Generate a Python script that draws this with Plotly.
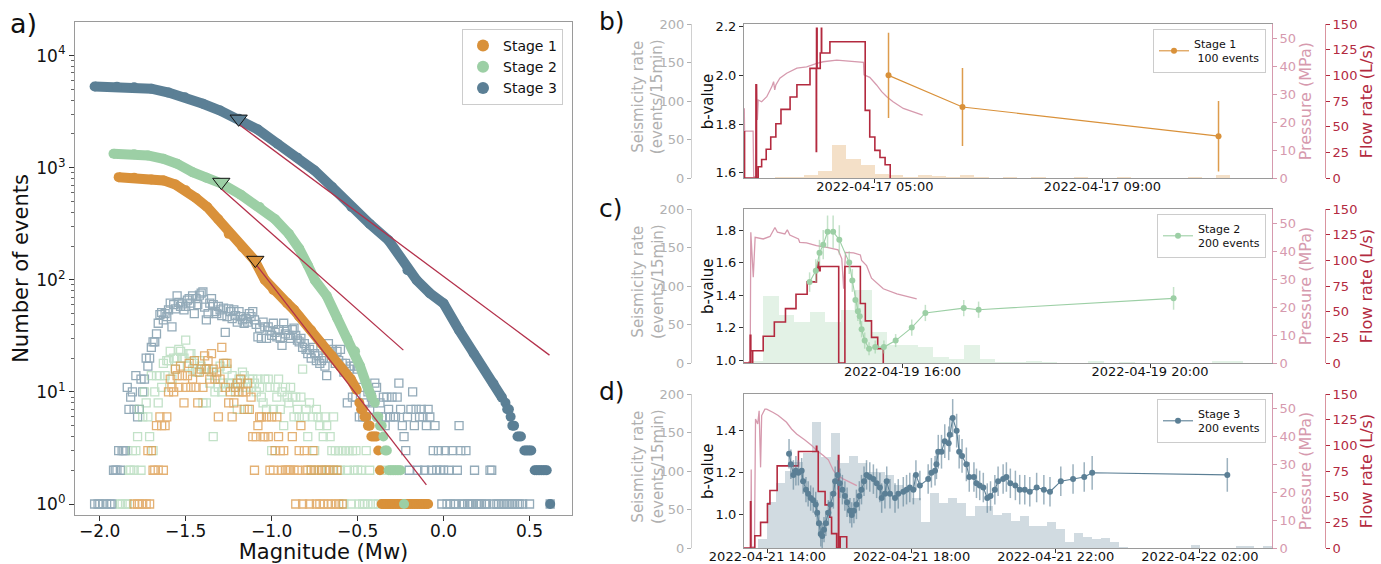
import numpy as np
import pandas as pd
import plotly.graph_objects as go

# ======================= Panel a: frequency-magnitude data =======================
BIN = 0.01
stage_names = ["Stage 1", "Stage 2", "Stage 3"]

# non-cumulative counts per 0.01 magnitude bin (open squares)
sq1_first = -1.80
sq1_counts = [1, 0, 1, 1, 0, 1, 0, 1, 3, 1,
              3, 2, 2, 5, 2, 6, 5, 2, 5, 6,
              10, 13, 11, 10, 16, 14, 11, 17, 14, 8,
              11, 14, 18, 11, 13, 19, 11, 8, 15, 16,
              11, 21, 16, 19, 13, 22, 16, 13, 15, 6,
              13, 25, 18, 11, 18, 8, 10, 6, 8, 11,
              12, 10, 13, 10, 7, 10, 12, 7, 9, 4,
              2, 4, 5, 6, 6, 4, 4, 6, 4, 2,
              6, 2, 3, 6, 4, 3, 2, 3, 2, 2,
              2, 2, 4, 2, 1, 2, 3, 5, 1, 3,
              2, 2, 1, 2, 3, 2, 1, 2, 1, 2,
              1, 2, 2, 1, 2, 1, 2, 1, 2, 1,
              0, 1]
sq2_first = -1.88
sq2_counts = [1, 1, 0, 1, 1, 2, 2, 3, 2, 3,
              4, 7, 2, 6, 10, 8, 6, 4, 14, 3,
              10, 14, 8, 14, 11, 18, 14, 19, 19, 23,
              13, 20, 16, 20, 24, 23, 20, 20, 29, 17,
              22, 22, 16, 18, 15, 15, 19, 17, 8, 16,
              8, 16, 12, 15, 4, 10, 14, 11, 17, 10,
              12, 18, 16, 12, 12, 14, 11, 10, 7, 13,
              12, 15, 14, 11, 7, 13, 11, 13, 12, 10,
              13, 11, 9, 8, 13, 7, 13, 11, 3, 7,
              11, 9, 13, 7, 10, 5, 11, 9, 8, 11,
              9, 6, 9, 7, 6, 9, 16, 6, 7, 4,
              8, 2, 6, 3, 7, 6, 5, 2, 4, 6,
              5, 2, 4, 3, 6, 3, 2, 3, 2, 3,
              1, 3, 2, 3, 1, 3, 2, 3, 2, 1,
              2, 1, 1, 3, 1, 2, 0, 1, 0, 0,
              1, 0, 2, 0, 1, 0, 0, 0, 1, 0,
              0, 0, 0, 0, 0, 1]
sq3_first = -2.03
sq3_counts = [1, 0, 1, 1, 0, 1, 0, 1, 0, 1,
              1, 2, 2, 2, 3, 2, 3, 3, 3, 11,
              7, 9, 10, 7, 14, 6, 7, 13, 10, 13,
              20, 17, 20, 25, 28, 28, 33, 41, 49, 51,
              44, 50, 47, 54, 62, 38, 60, 55, 72, 63,
              58, 61, 54, 58, 66, 68, 62, 72, 50, 68,
              60, 73, 76, 78, 57, 44, 50, 62, 68, 60,
              52, 50, 58, 54, 48, 56, 34, 47, 55, 52,
              45, 54, 48, 42, 52, 47, 44, 41, 45, 42,
              50, 47, 52, 44, 40, 31, 37, 30, 42, 38,
              30, 38, 35, 32, 41, 34, 31, 36, 30, 26,
              41, 33, 36, 32, 30, 36, 37, 32, 29, 28,
              30, 25, 27, 24, 22, 24, 20, 25, 22, 19,
              21, 18, 19, 20, 17, 14, 27, 23, 24, 20,
              18, 23, 19, 24, 18, 15, 18, 8, 16, 17,
              9, 17, 9, 16, 6, 11, 6, 8, 6, 10,
              7, 9, 8, 12, 11, 6, 8, 6, 9, 5,
              9, 7, 6, 9, 6, 6, 9, 12, 7, 5,
              4, 3, 6, 2, 7, 10, 5, 7, 2, 6,
              7, 6, 2, 5, 7, 6, 2, 3, 5, 2,
              3, 2, 1, 2, 3, 1, 2, 1, 3, 1,
              1, 2, 5, 3, 1, 1, 3, 1, 1, 1,
              1, 2, 1, 1, 1, 1, 0, 1, 1, 0,
              2, 2, 1, 0, 1, 1, 0, 1, 1, 0,
              1, 1, 0, 1, 1, 0, 1, 1, 0, 1,
              0, 0, 0, 1, 0, 0, 0, 0, 0, 0,
              0, 0, 0, 0, 0, 1]

# cumulative number of events (filled dots), smooth part
cum1_mag = [-1.89, -1.80, -1.70, -1.63, -1.56, -1.50, -1.44, -1.375, -1.31, -1.25, -1.17, -1.10,
            -1.04, -0.99, -0.91, -0.87, -0.84, -0.77, -0.71, -0.65, -0.60, -0.54, -0.505]
cum1_n = [824, 813, 785, 771, 708, 628, 537, 446, 347, 257, 195, 150,
          100, 81, 62, 54, 47, 35.5, 27, 21, 16.8, 13, 10.4]
cum2_mag = [-1.92, -1.80, -1.72, -1.63, -1.55, -1.46, -1.38, -1.29, -1.18, -1.07, -0.98, -0.90,
            -0.84, -0.79, -0.748, -0.68, -0.62, -0.56, -0.515, -0.486, -0.447, -0.418]
cum2_n = [1334, 1318, 1288, 1202, 1086, 912, 813, 720, 575, 446, 347, 257,
          190, 135, 99, 72, 46, 30, 23, 17, 11.5, 9]
cum3_mag = [-2.03, -1.90, -1.80, -1.70, -1.60, -1.505, -1.40, -1.30, -1.19, -1.08, -0.966, -0.85,
            -0.751, -0.65, -0.536, -0.43, -0.32, -0.21, -0.156, -0.08, 0.0, 0.09, 0.175, 0.29, 0.34]
cum3_n = [5300, 5285, 5224, 5070, 4677, 4256, 3715, 3236, 2730, 2188, 1637, 1230,
          946, 676, 446, 316, 225, 122, 99, 76, 61.5, 35.6, 22, 11.9, 8.9]
# cumulative, discrete tail
tail1_mag = [-0.49, -0.48, -0.47, -0.46, -0.45, -0.44, -0.43, -0.42, -0.41, -0.40, -0.39, -0.38, -0.37,
             -0.36, -0.35, -0.34, -0.33, -0.32, -0.31, -0.30, -0.29, -0.28, -0.27, -0.26, -0.25, -0.24,
             -0.23, -0.22, -0.21, -0.20, -0.19, -0.18, -0.17, -0.16, -0.15, -0.14, -0.13, -0.12, -0.11,
             -0.10, -0.09]
tail1_n = [8, 7, 7, 6, 6, 5, 5, 4, 4, 4, 4, 3, 2,
           1, 1, 1, 1, 1, 1, 1, 1, 1, 1, 1, 1, 1,
           1, 1, 1, 1, 1, 1, 1, 1, 1, 1, 1, 1, 1,
           1, 1]
tail2_mag = [-0.40, -0.39, -0.38, -0.37, -0.36, -0.35, -0.34, -0.33, -0.32, -0.31, -0.30, -0.29,
             -0.28, -0.27, -0.26, -0.25, -0.23]
tail2_n = [8, 6, 6, 5, 5, 4, 3, 3, 2, 2, 2, 2, 2, 2, 2, 2, 1]
tail3_mag = [0.36, 0.37, 0.38, 0.39, 0.40, 0.41, 0.43, 0.44, 0.45, 0.47, 0.48, 0.49, 0.50, 0.51,
             0.53, 0.54, 0.55, 0.56, 0.57, 0.58, 0.59, 0.60, 0.62]
tail3_n = [8, 7, 7, 6, 5, 5, 4, 4, 4, 3, 3, 3, 3, 3, 2, 2, 2, 2, 2, 2, 2, 2, 1]

# Gutenberg-Richter fits (end points) and completeness magnitudes
fit1_mag, fit1_n = [-1.096, -0.10], [140, 1.48]
fit2_mag, fit2_n = [-1.294, -0.234], [650, 23.6]
fit3_mag, fit3_n = [-1.19, 0.616], [2430, 21.3]
mc_mag = [-1.095, -1.293, -1.192]
mc_n = [150, 745, 2730]

# ======================= Panels b-d: time series =======================
# times are hours after midnight of the panel's first day
b_hist_start = [3.25, 3.5, 3.75, 4.0, 4.25, 4.5, 4.75, 5.0, 5.25, 5.5, 5.75, 6.0, 6.25, 6.5, 6.75,
                7.25, 7.75, 8.5, 9.25, 10.5, 11.0]
b_hist_count = [1, 1, 4, 9, 42, 24, 17, 5, 3, 1, 4, 2, 1, 3, 1, 1, 1, 1, 1, 1, 3]
b_press_t = [2.69, 2.70, 2.705, 2.71, 2.86, 2.87, 2.91, 2.92, 2.935, 2.95, 3.01, 3.10, 3.19, 3.22, 3.24,
             3.26, 3.33, 3.45, 3.63, 3.80, 3.98, 4.09, 4.33, 4.56, 4.80, 4.81, 4.91, 5.03, 5.12, 5.21,
             5.32, 5.50, 5.84]
b_press_p = [16.8, 16.8, 25.0, 16.8, 16.8, 0.5, 0.5, 33.3, 20.8, 27.9, 27.3, 29.1, 32.7, 34.5, 31.5,
             33.3, 35.7, 37.5, 39.3, 39.8, 41.0, 41.6, 42.2, 41.9, 41.4, 36.9, 36.0, 33.3, 30.9, 29.1,
             27.3, 24.9, 22.5]
b_flow_t = [2.69, 2.70, 2.71, 2.91, 2.92, 2.95, 3.01, 3.09, 3.17, 3.26, 3.35, 3.51, 3.63, 3.86,
            3.97, 3.975, 3.985, 4.04, 4.06, 4.065, 4.21, 4.83, 4.91, 5.00, 5.09, 5.18, 5.27]
b_flow_q = [0, 45, 0, 91, 0, 11, 18, 28, 40, 53, 67, 79, 91, 107,
            26, 146, 107, 122, 146, 122, 133, 66, 40, 27, 20, 13, 0]
b_bval_t = [5.24, 6.54, 11.04]
b_bval_v = [2.00, 1.87, 1.75]
b_bval_e = [0.175, 0.16, 0.145]

c_hist_start = [13.5, 13.75, 14.0, 14.25, 14.5, 14.75, 15.0, 15.25, 15.5, 15.75, 16.0, 16.25, 16.5,
                16.75, 17.0, 17.25, 17.5, 17.75, 18.0, 18.25, 19.0, 19.5, 21.0, 21.25]
c_hist_count = [2, 87, 62, 53, 66, 53, 69, 95, 40, 24, 23, 21, 8, 5, 24, 5, 1, 1, 3, 1, 2, 1, 3, 3]
c_press_t = [13.51, 13.54, 13.55, 13.59, 13.62, 13.75, 13.86, 13.94, 13.98, 14.10, 14.14, 14.18, 14.32,
             14.34, 14.45, 14.61, 14.78, 14.94, 14.96, 15.02, 15.05, 15.08, 15.21, 15.32, 15.34, 15.42,
             15.50, 15.69, 15.91, 16.23]
c_press_p = [0.4, 0.4, 46.7, 30.6, 44.9, 44.3, 45.2, 48.4, 46.7, 46.1, 47.6, 45.7, 44.3,
             43.1, 42.9, 41.9, 41.3, 40.7, 40.4, 37.2, 26.5, 39.5, 39.3, 38.6, 36.6, 34.8,
             30.3, 26.5, 24.7, 22.9]
c_flow_t = [13.44, 13.54, 13.55, 13.57, 13.58, 13.75, 13.93, 14.11, 14.28, 14.46, 14.61, 14.63, 14.65,
            14.67, 14.97, 15.07, 15.32, 15.40, 15.50, 15.60, 15.69]
c_flow_q = [0, 27, 12, 0, 12, 26, 40, 53, 67, 79, 92, 98, 90, 94, 0, 94, 58, 41, 25, 14, 0]
c_bval_t = [14.50, 14.60, 14.66, 14.72, 14.79, 14.88, 14.98, 15.14, 15.19, 15.24, 15.28, 15.31,
            15.34, 15.39, 15.46, 15.56, 15.70, 15.89, 16.15, 16.37, 16.99, 17.23, 20.38]
c_bval_v = [1.48, 1.55, 1.66, 1.71, 1.79, 1.79, 1.74, 1.60, 1.49, 1.37, 1.30, 1.27,
            1.19, 1.12, 1.07, 1.08, 1.08, 1.12, 1.20, 1.29, 1.32, 1.31, 1.38]
c_bval_e = [0.06, 0.07, 0.08, 0.09, 0.10, 0.10, 0.09, 0.07, 0.07, 0.06, 0.06, 0.05,
            0.05, 0.05, 0.04, 0.04, 0.04, 0.04, 0.05, 0.05, 0.05, 0.05, 0.07]

d_hist_first = 13.75
d_hist_count = [12, 60, 84, 100, 112, 123, 164, 118, 149, 110,
                120, 110, 99, 99, 95, 82, 78, 65, 34, 71,
                58, 65, 58, 41, 55, 55, 43, 46, 35, 42,
                29, 28, 34, 25, 8, 19, 14, 12, 13, 8,
                1, 0, 0, 0, 0, 0, 0, 0, 4, 0,
                0, 0, 0, 3, 2, 0, 3]
d_press_t = [13.54, 13.55, 13.56, 13.64, 13.67, 13.73, 13.77, 13.81, 13.84, 13.93, 13.98, 14.16, 14.30,
             14.53, 14.67, 14.81, 14.95, 15.04, 15.23, 15.37, 15.55, 15.69, 15.83, 15.92, 16.10, 16.29,
             16.48]
d_press_p = [0.4, 28.0, 0.4, 0.4, 46.1, 44.3, 49.0, 28.8, 47.3, 49.6, 49.6, 48.4, 47.3,
             44.9, 42.5, 40.7, 39.5, 38.6, 36.6, 34.8, 33.0, 31.5, 27.7, 26.2, 24.7, 23.5,
             22.3]
d_flow_t = [13.35, 13.53, 13.54, 13.65, 13.81, 14.00, 14.07, 14.27, 14.86, 15.36, 15.37, 15.41,
            15.60, 15.73, 15.78, 15.92, 15.97, 15.98, 16.02, 16.20]
d_flow_q = [0, 45, 0, 12, 25, 43, 56, 80, 94, 99, 94, 55, 42, 30, 14, 0, 90, 0, 11, 0]
d_bval_t = [14.60, 14.65, 14.72, 14.79, 14.86, 14.95, 14.99, 15.07, 15.13, 15.20,
            15.27, 15.34, 15.38, 15.43, 15.48, 15.52, 15.57, 15.62, 15.69, 15.75,
            15.83, 15.88, 15.95, 16.01, 16.08, 16.15, 16.21, 16.29, 16.34, 16.40,
            16.47, 16.55, 16.61, 16.68, 16.75, 16.84, 16.94, 17.03, 17.12, 17.17,
            17.26, 17.31, 17.40, 17.54, 17.63, 17.77, 17.86, 17.95, 18.05, 18.12,
            18.23, 18.46, 18.55, 18.65, 18.69, 18.74, 18.83, 18.92, 19.03, 19.06,
            19.14, 19.25, 19.32, 19.40, 19.52, 19.60, 19.73, 19.80, 19.89, 19.99,
            20.10, 20.19, 20.31, 20.40, 20.54, 20.63, 20.74, 20.88, 21.00, 21.14,
            21.28, 21.47, 21.67, 21.84, 22.14, 22.48, 22.79, 23.01, 26.76]
d_bval_v = [1.29, 1.24, 1.19, 1.21, 1.20, 1.21, 1.16, 1.12, 1.10, 1.08,
            1.07, 1.05, 1.01, 0.96, 0.91, 0.90, 0.93, 0.96, 1.01, 1.05,
            1.10, 1.16, 1.19, 1.15, 1.12, 1.09, 1.06, 1.02, 1.00, 1.02,
            1.05, 1.09, 1.12, 1.16, 1.19, 1.18, 1.17, 1.15, 1.13, 1.08,
            1.10, 1.16, 1.10, 1.08, 1.10, 1.11, 1.12, 1.13, 1.12, 1.19,
            1.14, 1.17, 1.20, 1.21, 1.24, 1.30, 1.30, 1.35, 1.34, 1.38,
            1.46, 1.40, 1.30, 1.28, 1.24, 1.18, 1.18, 1.15, 1.14, 1.13,
            1.08, 1.09, 1.12, 1.16, 1.17, 1.18, 1.15, 1.14, 1.12, 1.12,
            1.11, 1.13, 1.12, 1.11, 1.16, 1.17, 1.18, 1.20, 1.19]
d_bval_e = [0.07, 0.07, 0.07, 0.07, 0.06, 0.06, 0.06, 0.06, 0.06, 0.06,
            0.06, 0.06, 0.06, 0.06, 0.06, 0.06, 0.06, 0.06, 0.06, 0.06,
            0.07, 0.07, 0.07, 0.07, 0.07, 0.07, 0.07, 0.06, 0.06, 0.06,
            0.07, 0.07, 0.07, 0.07, 0.07, 0.07, 0.07, 0.07, 0.07, 0.07,
            0.07, 0.07, 0.07, 0.07, 0.07, 0.07, 0.07, 0.07, 0.07, 0.07,
            0.07, 0.07, 0.07, 0.07, 0.07, 0.08, 0.08, 0.08, 0.08, 0.08,
            0.09, 0.08, 0.08, 0.08, 0.08, 0.07, 0.07, 0.07, 0.07, 0.07,
            0.07, 0.07, 0.07, 0.07, 0.07, 0.07, 0.07, 0.07, 0.07, 0.07,
            0.07, 0.07, 0.07, 0.07, 0.07, 0.07, 0.07, 0.08, 0.08]

# ======================= styling =======================
FONT = "DejaVu Sans"
C1, C2, C3 = "#d9913a", "#9ccfa5", "#5b7f95"
FIT = "#b3314b"
FLOW = "#b32a3f"
PRESS = "#d69aae"
GREY = "#b0b0b0"
FRAME = "#9a9a9a"
W, H = 1381, 564


def fx(x):
    return x / W


def fy(y):
    return 1 - y / H


def to_time(day, hours):
    base = pd.Timestamp(day)
    return [base + pd.Timedelta(hours=float(h)) for h in hours]


def rgba(hexcol, a):
    h = hexcol.lstrip("#")
    return "rgba(%d,%d,%d,%.2f)" % (int(h[0:2], 16), int(h[2:4], 16), int(h[4:6], 16), a)


fig = go.Figure()

# ---------- panel a ----------
sq_sets = [(sq3_first, sq3_counts, C3, 0.65), (sq2_first, sq2_counts, C2, 0.6), (sq1_first, sq1_counts, C1, 0.7)]
for first, counts, col, op in sq_sets:
    mags = np.round(first + BIN * np.arange(len(counts)), 2)
    cnt = np.array(counts, dtype=float)
    keep = cnt > 0
    fig.add_trace(go.Scatter(x=mags[keep], y=cnt[keep], mode="markers", xaxis="x", yaxis="y",
                             marker=dict(symbol="square-open", size=8, color=col, line=dict(width=1.3, color=col)),
                             opacity=op, showlegend=False, hoverinfo="skip"))

cum_sets = [(cum1_mag, cum1_n, tail1_mag, tail1_n, C1),
            (cum2_mag, cum2_n, tail2_mag, tail2_n, C2),
            (cum3_mag, cum3_n, tail3_mag, tail3_n, C3)]
for cm, cn, tm, tn, col in cum_sets:
    fig.add_trace(go.Scatter(x=cm, y=cn, mode="lines+markers", xaxis="x", yaxis="y",
                             line=dict(color=col, width=10), marker=dict(size=10, color=col),
                             showlegend=False, hoverinfo="skip"))
    fig.add_trace(go.Scatter(x=tm, y=tn, mode="markers", xaxis="x", yaxis="y",
                             marker=dict(size=10, color=col), showlegend=False, hoverinfo="skip"))

for fm, fn in [(fit1_mag, fit1_n), (fit2_mag, fit2_n), (fit3_mag, fit3_n)]:
    fig.add_trace(go.Scatter(x=fm, y=fn, mode="lines", xaxis="x", yaxis="y",
                             line=dict(color=FIT, width=1.3), showlegend=False, hoverinfo="skip"))

fig.add_trace(go.Scatter(x=mc_mag, y=mc_n, mode="markers", xaxis="x", yaxis="y",
                         marker=dict(symbol="triangle-down", size=15, color=[C1, C2, C3],
                                     line=dict(color="#111111", width=1)),
                         showlegend=False, hoverinfo="skip"))

for name, col in zip(stage_names, [C1, C2, C3]):
    fig.add_trace(go.Scatter(x=[None], y=[None], mode="markers", name=name, xaxis="x", yaxis="y",
                             marker=dict(size=10, color=col), legend="legend"))

minor_vals = [m * 10 ** k for k in range(0, 5) for m in range(2, 10) if m * 10 ** k < 19000]

layout = dict(
    width=W, height=H, margin=dict(l=0, r=0, t=0, b=0, autoexpand=False),
    paper_bgcolor="white", plot_bgcolor="white",
    font=dict(family=FONT, color="#111111"),
    xaxis=dict(domain=[fx(75), fx(572)], range=[-2.144, 0.747], anchor="y", automargin=False,
               tickvals=[-2.0, -1.5, -1.0, -0.5, 0.0, 0.5],
               ticktext=["\u22122.0", "\u22121.5", "\u22121.0", "\u22120.5", "0.0", "0.5"],
               ticks="outside", ticklen=5, tickcolor="#333", tickfont=dict(size=17),
               ticklabelstandoff=-5,
               showline=True, linecolor=FRAME, linewidth=1.2, mirror=True, showgrid=False, zeroline=False,
               title=dict(text="Magnitude (Mw)", font=dict(size=21), standoff=2)),
    yaxis=dict(domain=[fy(515), fy(22)], type="log", range=[-0.098, 4.30], anchor="x", automargin=False,
               tickvals=[1, 10, 100, 1000, 10000],
               ticktext=["10<sup>0</sup>", "10<sup>1</sup>", "10<sup>2</sup>", "10<sup>3</sup>", "10<sup>4</sup>"],
               ticks="outside", ticklen=5, tickcolor="#333", tickfont=dict(size=17),
               minor=dict(tickmode="array", tickvals=minor_vals, ticks="outside", ticklen=3, tickcolor="#666"),
               showline=True, linecolor=FRAME, linewidth=1.2, mirror=True, showgrid=False, zeroline=False,
               title=dict(text="Number of events", font=dict(size=21), standoff=1)),
    legend=dict(x=fx(563), y=fy(29), xanchor="right", yanchor="top", bgcolor="rgba(255,255,255,0.9)",
                bordercolor="#cccccc", borderwidth=1, font=dict(size=14), itemsizing="constant"),
)

annotations = [dict(text="a)", x=fx(8), y=fy(24), xref="paper", yref="paper", xanchor="left",
                    yanchor="middle", showarrow=False, font=dict(size=27))]

# ---------- panels b-d ----------
panels = [
    dict(day="2022-04-17", xr=(2.70, 11.98), ticks=[5, 9], top=24.3, bot=178, brange=(1.578, 2.21),
         btick=[1.6, 1.8, 2.0, 2.2], col=C1, hs=b_hist_start, hc=b_hist_count,
         pt=b_press_t, pp=b_press_p, ft=b_flow_t, fq=b_flow_q, bt=b_bval_t, bv=b_bval_v, be=b_bval_e,
         name="Stage 1<br> 100 events", label="b)", lab_y=21, leg_y=29, eop=0.9),
    dict(day="2022-04-19", xr=(13.44, 21.97), ticks=[16, 20], top=209, bot=363, brange=(0.982, 1.93),
         btick=[1.0, 1.2, 1.4, 1.6, 1.8], col=C2, hs=c_hist_start, hc=c_hist_count,
         pt=c_press_t, pp=c_press_p, ft=c_flow_t, fq=c_flow_q, bt=c_bval_t, bv=c_bval_v, be=c_bval_e,
         name="Stage 2<br>200 events", label="c)", lab_y=208, leg_y=214, eop=0.6),
    dict(day="2022-04-21", xr=(13.35, 28.0), ticks=[14, 18, 22, 26], top=394, bot=548, brange=(0.843, 1.574),
         btick=[1.0, 1.2, 1.4], col=C3,
         hs=[d_hist_first + 0.25 * k for k in range(len(d_hist_count))], hc=d_hist_count,
         pt=d_press_t, pp=d_press_p, ft=d_flow_t, fq=d_flow_q, bt=d_bval_t, bv=d_bval_v, be=d_bval_e,
         name="Stage 3<br>200 events", label="d)", lab_y=391, leg_y=399, eop=0.6),
]

for i, p in enumerate(panels):
    xn = i + 2
    ys, yp, yf, yb = 2 + 4 * i, 3 + 4 * i, 4 + 4 * i, 5 + 4 * i
    xid = "x%d" % xn
    col = p["col"]
    day = p["day"]
    # seismicity histogram
    hs = [h for h, c in zip(p["hs"], p["hc"]) if c > 0]
    hc = [c for c in p["hc"] if c > 0]
    fig.add_trace(go.Bar(x=to_time(day, [h + 0.125 for h in hs]), y=hc, width=15 * 60 * 1000,
                         marker=dict(color=rgba(col, 0.28), line=dict(width=0)),
                         xaxis=xid, yaxis="y%d" % ys, showlegend=False, hoverinfo="skip"))
    # pressure
    fig.add_trace(go.Scatter(x=to_time(day, p["pt"]), y=p["pp"], mode="lines",
                             line=dict(color=PRESS, width=1.3), xaxis=xid, yaxis="y%d" % yp,
                             showlegend=False, hoverinfo="skip"))
    # flow rate
    fig.add_trace(go.Scatter(x=to_time(day, p["ft"]), y=p["fq"], mode="lines",
                             line=dict(color=FLOW, width=1.6, shape="hv"), xaxis=xid, yaxis="y%d" % yf,
                             showlegend=False, hoverinfo="skip"))
    # b-value
    fig.add_trace(go.Scatter(x=to_time(day, p["bt"]), y=p["bv"], mode="lines+markers", name=p["name"],
                             marker=dict(size=6, color=col), line=dict(color=col, width=1.1),
                             error_y=dict(type="data", array=p["be"], visible=True, color=rgba(col, p["eop"]),
                                          thickness=1.5, width=0),
                             xaxis=xid, yaxis="y%d" % yb, legend="legend%d" % xn, showlegend=True,
                             hoverinfo="skip"))

    dom = [fy(p["bot"]), fy(p["top"])]
    mid = (p["bot"] + p["top"]) / 2
    tv = to_time(day, p["ticks"])
    layout["xaxis%d" % xn] = dict(
        domain=[fx(744), fx(1272)], type="date", anchor="y%d" % yb, automargin=False,
        range=to_time(day, p["xr"]), tickvals=tv, tickformat="%Y-%m-%d %H:%M",
        ticks="outside", ticklen=4, tickcolor="#333", tickfont=dict(size=13), ticklabelstandoff=-8,
        showline=True, linecolor=FRAME, linewidth=1.2, mirror=True, showgrid=False, zeroline=False)
    layout["yaxis%d" % ys] = dict(
        domain=dom, anchor="free", position=fx(691), side="left", range=[0, 200], automargin=False,
        tickvals=[0, 50, 100, 150, 200], ticks="outside", ticklen=4, tickcolor=GREY,
        tickfont=dict(size=13, color=GREY), showline=True, linecolor="#d0d0d0", showgrid=False,
        zeroline=False)
    layout["yaxis%d" % yp] = dict(
        overlaying="y%d" % ys, anchor=xid, side="right", range=[0, 55], automargin=False,
        tickvals=[0, 10, 20, 30, 40, 50], ticks="outside", ticklen=4, tickcolor=PRESS,
        tickfont=dict(size=13, color=PRESS), showline=True, linecolor=PRESS, showgrid=False, zeroline=False,
        title=dict(text="Pressure (MPa)", font=dict(size=16, color=PRESS), standoff=1))
    layout["yaxis%d" % yf] = dict(
        overlaying="y%d" % ys, anchor="free", position=fx(1325), side="right", range=[0, 150],
        automargin=False,
        tickvals=[0, 25, 50, 75, 100, 125, 150], ticks="outside", ticklen=4, tickcolor=FLOW,
        tickfont=dict(size=13, color=FLOW), showline=True, linecolor=rgba(FLOW, 0.5), showgrid=False,
        zeroline=False,
        title=dict(text="Flow rate (L/s)", font=dict(size=16, color=FLOW), standoff=4))
    layout["yaxis%d" % yb] = dict(
        overlaying="y%d" % ys, anchor=xid, side="left", range=list(p["brange"]), automargin=False,
        tickvals=p["btick"], tickformat=".1f", ticks="outside", ticklen=4, tickcolor="#333",
        tickfont=dict(size=13, color="#111"), showline=True, linecolor=FRAME, linewidth=1.2,
        showgrid=False, zeroline=False)
    layout["legend%d" % xn] = dict(
        x=fx(1266), y=fy(p["leg_y"]), xanchor="right", yanchor="top", bgcolor="rgba(255,255,255,0.9)",
        bordercolor="#cccccc", borderwidth=1, font=dict(size=11), tracegroupgap=0, itemwidth=30)
    annotations.append(dict(text=p["label"], x=fx(597), y=fy(p["lab_y"]), xref="paper", yref="paper",
                            xanchor="left", yanchor="middle", showarrow=False, font=dict(size=25)))
    annotations.append(dict(text="Seismicity rate<br>(events/15min)", x=fx(648), y=fy(mid - 4),
                            xref="paper", yref="paper", xanchor="center", yanchor="middle",
                            textangle=-90, showarrow=False, font=dict(size=15, color=GREY)))
    annotations.append(dict(text="b-value", x=fx(708), y=fy(mid), xref="paper", yref="paper",
                            xanchor="center", yanchor="middle", textangle=-90, showarrow=False,
                            font=dict(size=15, color="#111")))

layout["annotations"] = annotations
layout["bargap"] = 0
fig.update_layout(**layout)
fig.write_html("out.html", config={"displayModeBar": False},
               post_script="document.body.style.margin='0px';")
